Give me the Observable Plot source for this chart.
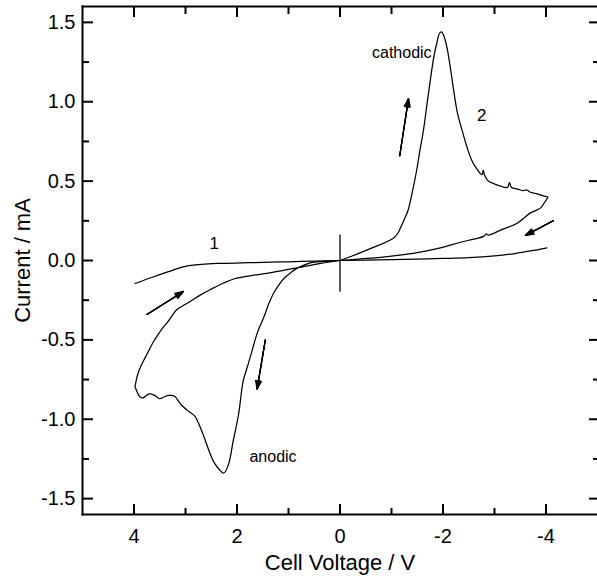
<!DOCTYPE html>
<html><head><meta charset="utf-8">
<script src="https://cdn.jsdelivr.net/npm/d3@7"></script>
<script src="https://cdn.jsdelivr.net/npm/@observablehq/plot@0.6"></script>
<style>body{margin:0;background:#fff} svg{display:block}</style>
</head><body><div id="chart"></div>
<script>
// Cycle 1 (small current)
const cycle1V = [3.98, 3.66, 3.33, 3.02, 2.69, 2.3, 1.9, 1.5, 1.0, 0.5, 0, -0.5, -1.0, -1.5, -2.0, -2.5, -3.0, -3.4, -3.7, -4.02];
const cycle1I = [-0.145, -0.107, -0.07, -0.038, -0.024, -0.018, -0.015, -0.012, -0.008, -0.004, 0, 0.003, 0.006, 0.009, 0.013, 0.018, 0.029, 0.044, 0.06, 0.08];

// Cycle 2: cathodic sweep out (0 -> -4 V)
const cathOutV = [0, -0.21, -0.6, -1.03, -1.12, -1.18, -1.25, -1.32, -1.41, -1.49, -1.55, -1.62, -1.7, -1.76, -1.82, -1.88, -1.93, -1.97, -2.01, -2.05, -2.09, -2.14, -2.19, -2.28, -2.38, -2.47, -2.56, -2.65, -2.72, -2.76, -2.78, -2.81, -2.88, -2.98, -3.1, -3.25, -3.29, -3.33, -3.45, -3.56, -3.62, -3.7, -3.76, -3.83, -3.92, -4.04];
const cathOutI = [0, 0.025, 0.076, 0.139, 0.17, 0.21, 0.26, 0.315, 0.44, 0.57, 0.69, 0.82, 1.01, 1.15, 1.28, 1.37, 1.43, 1.44, 1.42, 1.38, 1.32, 1.22, 1.11, 0.93, 0.81, 0.71, 0.63, 0.58, 0.55, 0.54, 0.57, 0.535, 0.5, 0.485, 0.47, 0.46, 0.49, 0.46, 0.45, 0.44, 0.445, 0.43, 0.425, 0.42, 0.41, 0.40];
// Cycle 2: cathodic return (-4 -> 0 V)
const cathBackV = [-4.04, -3.96, -3.89, -3.7, -3.44, -3.11, -2.88, -2.84, -2.79, -2.6, -2.34, -1.95, -1.5, -1.12, -0.79, -0.4, 0];
const cathBackI = [0.40, 0.36, 0.33, 0.30, 0.235, 0.19, 0.16, 0.168, 0.152, 0.135, 0.115, 0.08, 0.05, 0.032, 0.02, 0.01, 0];
// Cycle 2: anodic sweep out (0 -> +4 V)
const anOutV = [0, 0.3, 0.56, 0.81, 0.95, 1.08, 1.18, 1.28, 1.38, 1.47, 1.55, 1.62, 1.7, 1.78, 1.88, 1.97, 2.07, 2.17, 2.26, 2.36, 2.45, 2.53, 2.69, 2.82, 2.94, 3.08, 3.15, 3.21, 3.33, 3.42, 3.5, 3.6, 3.69, 3.76, 3.82, 3.88, 3.98];
const anOutI = [0, -0.005, -0.013, -0.045, -0.075, -0.11, -0.15, -0.2, -0.27, -0.35, -0.41, -0.47, -0.56, -0.65, -0.76, -0.97, -1.13, -1.29, -1.34, -1.31, -1.27, -1.21, -1.07, -0.98, -0.95, -0.91, -0.88, -0.855, -0.85, -0.86, -0.87, -0.85, -0.84, -0.85, -0.865, -0.86, -0.795];
// Cycle 2: anodic return (+4 -> 0 V)
const anBackV = [3.98, 3.93, 3.86, 3.78, 3.7, 3.62, 3.52, 3.43, 3.33, 3.17, 3.05, 2.94, 2.7, 2.5, 2.25, 2.05, 1.72, 1.39, 1.1, 0.81, 0.4, 0];
const anBackI = [-0.795, -0.72, -0.66, -0.61, -0.56, -0.51, -0.46, -0.42, -0.38, -0.31, -0.285, -0.265, -0.215, -0.18, -0.14, -0.115, -0.095, -0.08, -0.062, -0.045, -0.02, 0];

// Vertical marker at 0 V
const markerV = [0];
const markerI1 = [-0.2];
const markerI2 = [0.16];

// Sweep-direction arrows (start -> end)
const arrowV1 = [3.75, 1.45, -1.16, -4.14];
const arrowI1 = [-0.34, -0.5, 0.66, 0.25];
const arrowV2 = [3.04, 1.61, -1.33, -3.6];
const arrowI2 = [-0.195, -0.81, 1.02, 0.158];

// Annotations
const wordText = ["cathodic", "anodic"];
const wordV = [-1.2, 1.3];
const wordI = [1.31, -1.24];
const numText = ["1", "2"];
const numV = [2.44, -2.75];
const numI = [0.107, 0.915];

// Ticks
const xMajor = [4, 2, 0, -2, -4];
const xMinor = [3, 1, -1, -3];
const yMajor = [-1.5, -1.0, -0.5, 0, 0.5, 1.0, 1.5];
const yMinor = [-1.25, -0.75, -0.25, 0.25, 0.75, 1.25];

const xTitle = ["Cell Voltage / V"];
const yTitle = ["Current / mA"];

const rows = [];
function add(series, V, I) { V.forEach((v, i) => rows.push({series, V: v, I: I[i]})); }
add("1", cycle1V, cycle1I);
add("2", cathOutV, cathOutI);
add("2", cathBackV, cathBackI);
add("2", anOutV, anOutI);
add("2", anBackV, anBackI);

const arrows = arrowV1.map((v, i) => ({x1: v, y1: arrowI1[i], x2: arrowV2[i], y2: arrowI2[i]}));
const markers = markerV.map((v, i) => ({x: v, y1: markerI1[i], y2: markerI2[i]}));
const words = wordText.map((t, i) => ({t, x: wordV[i], y: wordI[i]}));
const nums = numText.map((t, i) => ({t, x: numV[i], y: numI[i]}));

const chart = Plot.plot({
  width: 597,
  height: 579,
  marginLeft: 82,
  marginRight: 0,
  marginTop: 6,
  marginBottom: 65,
  style: {fontFamily: "'Liberation Sans', Arial, sans-serif", fontSize: "20px", background: "white", color: "black"},
  x: {domain: [5, -5]},
  y: {domain: [-1.6, 1.6]},
  marks: [
    Plot.line(rows, {x: "V", y: "I", z: "series", stroke: "black", strokeWidth: 1.25, curve: "catmull-rom"}),
    Plot.ruleX(markers, {x: "x", y1: "y1", y2: "y2", stroke: "black", strokeWidth: 1.3}),
    ...[40, 28, 16, 6].map(a => Plot.arrow(arrows, {x1: "x1", y1: "y1", x2: "x2", y2: "y2", headLength: 11, headAngle: a, stroke: "black", strokeWidth: 1.2})),
    Plot.text(words, {x: "x", y: "y", text: "t", fontSize: 16}),
    Plot.text(nums, {x: "x", y: "y", text: "t", fontSize: 17}),
    Plot.frame({anchor: "left", strokeWidth: 2}),
    Plot.frame({anchor: "top", strokeWidth: 2}),
    Plot.frame({anchor: "bottom", strokeWidth: 2}),
    Plot.axisY(yMajor, {anchor: "left", tickSize: 11, insetLeft: 11, tickPadding: 7, strokeWidth: 2, fontSize: 20, tickFormat: d => d.toFixed(1), label: null}),
    Plot.axisY(yMinor, {anchor: "left", tickSize: 7, insetLeft: 7, strokeWidth: 2, fill: "none", label: null}),
    Plot.axisY(yMajor, {anchor: "right", tickSize: 9, insetRight: 9, strokeWidth: 2, fill: "none", label: null}),
    Plot.axisY(yMinor, {anchor: "right", tickSize: 5, insetRight: 5, strokeWidth: 2, fill: "none", label: null}),
    Plot.axisX(xMajor, {anchor: "bottom", tickSize: 10, insetBottom: 10, tickPadding: 14, strokeWidth: 2, fontSize: 20, tickFormat: d => String(d), label: null}),
    Plot.axisX(xMinor, {anchor: "bottom", tickSize: 6, insetBottom: 6, strokeWidth: 2, fill: "none", label: null}),
    Plot.axisX(xMajor, {anchor: "top", tickSize: 10, insetTop: 10, strokeWidth: 2, fill: "none", label: null}),
    Plot.axisX(xMinor, {anchor: "top", tickSize: 7, insetTop: 7, strokeWidth: 2, fill: "none", label: null}),
    Plot.text(xTitle, {frameAnchor: "bottom", dy: 48, text: d => d, fontSize: 22, lineAnchor: "middle", textAnchor: "middle"}),
    Plot.text(yTitle, {frameAnchor: "left", dx: -60, rotate: -90, text: d => d, fontSize: 22, lineAnchor: "middle", textAnchor: "middle"})
  ]
});
document.getElementById("chart").appendChild(chart);
</script>
</body></html>
